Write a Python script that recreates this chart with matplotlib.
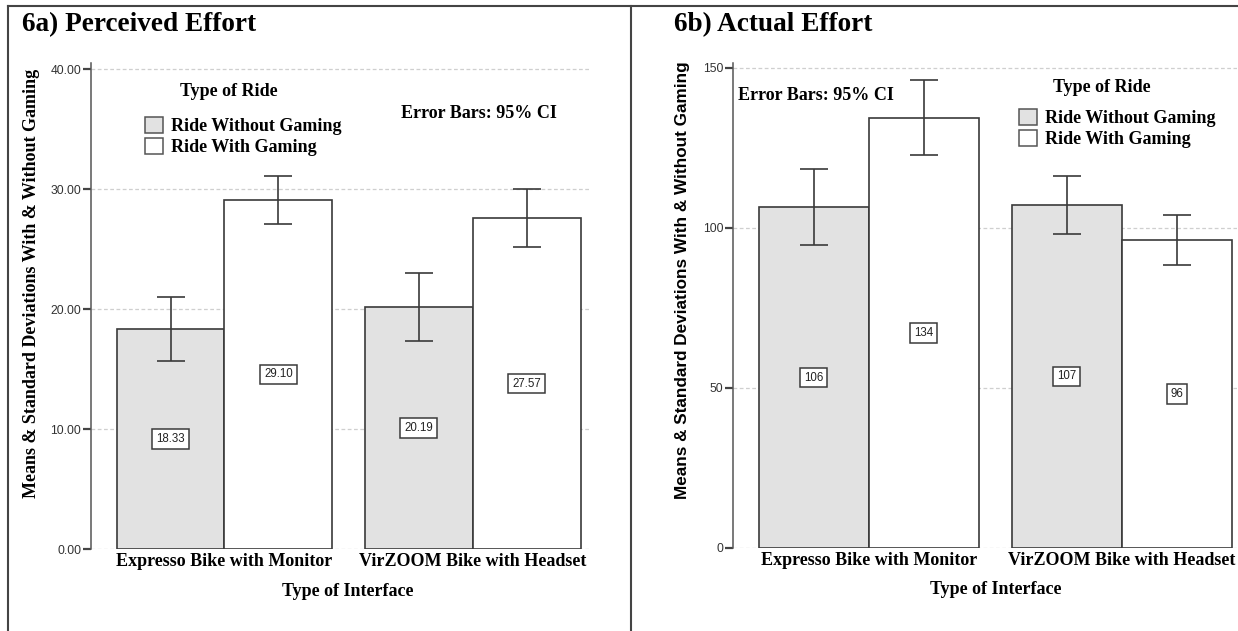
import matplotlib
matplotlib.use("Agg")
from matplotlib import pyplot as plt
from matplotlib.patches import Patch
from matplotlib.lines import Line2D
import numpy as np

# data
interfaces = ["Expresso Bike with Monitor", "VirZOOM Bike with Headset"]
rides = ["Ride Without Gaming", "Ride With Gaming"]

perceived_without = [18.33, 20.19]
perceived_with = [29.10, 27.57]
perceived_without_lo = [15.67, 17.36]
perceived_without_hi = [21.00, 23.00]
perceived_with_lo = [27.08, 25.14]
perceived_with_hi = [31.08, 29.97]

actual_without = [106.4, 107.2]
actual_with = [134.4, 96.2]
actual_without_lo = [94.8, 98.1]
actual_without_hi = [118.5, 116.3]
actual_with_lo = [122.7, 88.4]
actual_with_hi = [146.3, 104.0]

perceived_ticks = [0, 10, 20, 30, 40]
actual_ticks = [0, 50, 100, 150]

GRAY = '#e2e2e2'
EDGE = '#3a3a3a'
SERIF = ['Liberation Serif', 'DejaVu Serif']
SANS = ['Liberation Sans', 'DejaVu Sans']
FS = 13

W, H = 1238, 631
fig = plt.figure(figsize=(W / 100, H / 100), dpi=100)


def fx(px):
    return px / W


def fy(py):
    return 1 - py / H


def panel(rect, without, with_, wlo, whi, glo, ghi, ticks, ylim, fmt, xlim):
    ax = fig.add_axes(rect)
    x = np.arange(len(interfaces))
    w = 0.435
    ax.bar(x - w / 2, without, w, color=GRAY, edgecolor=EDGE, linewidth=1.2, zorder=2)
    ax.bar(x + w / 2, with_, w, color='white', edgecolor=EDGE, linewidth=1.2, zorder=2)
    for xs, vals, lo, hi in [(x - w / 2, without, wlo, whi), (x + w / 2, with_, glo, ghi)]:
        vals = np.array(vals)
        err = [vals - np.array(lo), np.array(hi) - vals]
        ax.errorbar(xs, vals, yerr=err, fmt='none', ecolor=EDGE, elinewidth=1.2,
                    capsize=10, capthick=1.2, zorder=3)
        for xi, v in zip(xs, vals):
            ax.text(xi, v / 2, fmt(v), ha='center', va='center', fontsize=8.3,
                    family=SANS, color='#222222', zorder=4,
                    bbox=dict(boxstyle='square,pad=0.33', fc='white', ec=EDGE, lw=1.1))
    ax.set_xlim(*xlim)
    ax.set_ylim(*ylim)
    ax.set_yticks(ticks)
    ax.yaxis.grid(True, linestyle=(0, (3, 2)), color='#cfcfcf', linewidth=0.9, zorder=0)
    ax.set_axisbelow(True)
    for s in ['top', 'right', 'bottom']:
        ax.spines[s].set_visible(False)
    ax.spines['left'].set_color('#555555')
    ax.spines['left'].set_linewidth(1.1)
    ax.tick_params(axis='y', length=6, width=1.6, color='#444444', pad=1,
                   labelsize=8.7, labelcolor='#333333')
    ax.set_xticks(x)
    ax.set_xticklabels(interfaces, family=SERIF, fontweight='bold', fontsize=FS)
    ax.tick_params(axis='x', length=0, pad=3)
    return ax


axL = panel([fx(91), fy(549), fx(589 - 91), (549 - 63) / H],
            perceived_without, perceived_with,
            perceived_without_lo, perceived_without_hi,
            perceived_with_lo, perceived_with_hi,
            perceived_ticks, (0, 40.5), lambda v: f"{v:.2f}", (-0.538, 1.469))
axL.set_yticklabels([f"{t:.2f}" for t in perceived_ticks], family=SANS)

axR = panel([fx(733), fy(548), fx(1237 - 733), (548 - 63) / H],
            actual_without, actual_with,
            actual_without_lo, actual_without_hi,
            actual_with_lo, actual_with_hi,
            actual_ticks, (0, 151.5), lambda v: f"{v:.0f}", (-0.536, 1.455))
axR.set_yticklabels([str(t) for t in actual_ticks], family=SANS)

# titles and labels
fig.text(fx(22), fy(25), "6a) Perceived Effort", family=SERIF, fontweight='bold',
         fontsize=19.6, ha='left', va='center')
fig.text(fx(674), fy(25), "6b) Actual Effort", family=SERIF, fontweight='bold',
         fontsize=19.6, ha='left', va='center')
fig.text(fx(32), fy(283), "Means & Standard Deviations With & Without Gaming",
         family=SERIF, fontweight='bold', fontsize=FS, rotation=90, ha='center', va='center')
fig.text(fx(683), fy(280), "Means & Standard Deviations With & Without Gaming",
         family=SANS, fontweight='bold', fontsize=12.3, rotation=90, ha='center', va='center')
fig.text(fx(348), fy(591), "Type of Interface", family=SERIF, fontweight='bold',
         fontsize=FS, ha='center', va='center')
fig.text(fx(996), fy(589), "Type of Interface", family=SERIF, fontweight='bold',
         fontsize=FS, ha='center', va='center')
fig.text(fx(479), fy(114), "Error Bars: 95% CI", family=SERIF, fontweight='bold',
         fontsize=FS, ha='center', va='center')
fig.text(fx(816), fy(96), "Error Bars: 95% CI", family=SERIF, fontweight='bold',
         fontsize=FS, ha='center', va='center')

# legends
handles = [Patch(facecolor=GRAY, edgecolor='#555555', linewidth=1.1),
           Patch(facecolor='white', edgecolor='#555555', linewidth=1.1)]
for tx, ty, lx, ly in [(229, 91, 145, 117), (1102, 87, 1019, 109)]:
    fig.text(fx(tx), fy(ty), "Type of Ride", family=SERIF, fontweight='bold',
             fontsize=FS, ha='center', va='center')
    fig.legend(handles, rides, loc='upper left', bbox_to_anchor=(fx(lx), fy(ly)),
               frameon=False, borderpad=0, borderaxespad=0, handlelength=1.0,
               handleheight=1.0, handletextpad=0.45, labelspacing=0.15,
               prop=dict(family=SERIF, weight='bold', size=FS))

# panel frame lines
fig.add_artist(Line2D([fx(8), fx(1238)], [fy(5.5), fy(5.5)], color='#444444', lw=1.5))
fig.add_artist(Line2D([fx(8), fx(8)], [fy(5.5), 0], color='#444444', lw=1.5))
fig.add_artist(Line2D([fx(631), fx(631)], [fy(5.5), 0], color='#444444', lw=1.5))

fig.savefig("out.png", dpi=100)
